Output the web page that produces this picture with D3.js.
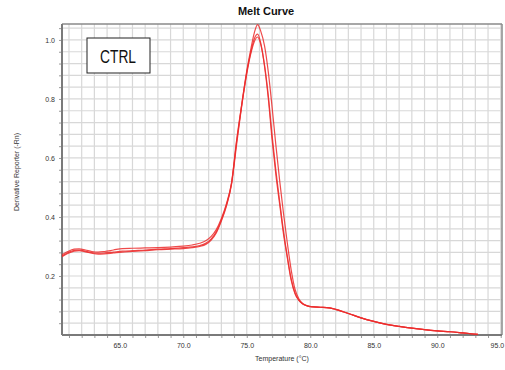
<!DOCTYPE html>
<html>
<head>
<meta charset="utf-8">
<script src="https://cdn.jsdelivr.net/npm/d3@7/dist/d3.min.js"></script>
<style>
  html, body { margin: 0; padding: 0; background: #fff; }
  svg { display: block; }
  text { font-family: "Liberation Sans", Arial, sans-serif; }
</style>
</head>
<body>
<svg id="chart" width="505" height="370"></svg>
<script>
// Temperature sample points (°C)
const temps = [60.45, 60.9, 61.4, 61.8, 62.3, 62.8, 63.3, 63.8, 64.5, 65.2, 66, 67, 68, 69, 70,
  70.7, 71.3, 71.8, 72.2, 72.6, 73.0, 73.4, 73.8, 74.2, 74.6, 75.0, 75.3, 75.6, 75.85, 76.1,
  76.4, 76.7, 77.0, 77.3, 77.6, 77.9, 78.2, 78.5, 78.8, 79.1, 79.4, 79.8, 80.2, 80.8, 81.5,
  82.0, 82.5, 83.0, 84.0, 85.0, 86.0, 87.0, 88.0, 89.0, 90.0, 91.0, 92.0, 93.2];

// Derivative reporter (-Rn) for the three CTRL wells
const wellA = [0.272, 0.283, 0.291, 0.292, 0.288, 0.283, 0.281, 0.283, 0.288, 0.293, 0.294, 0.295, 0.296, 0.298, 0.301,
  0.305, 0.311, 0.320, 0.334, 0.357, 0.395, 0.445, 0.515, 0.655, 0.780, 0.895, 0.965, 1.025, 1.052, 1.030,
  0.980, 0.890, 0.770, 0.640, 0.520, 0.410, 0.310, 0.220, 0.155, 0.123, 0.107, 0.099, 0.096, 0.094, 0.092,
  0.087, 0.080, 0.073, 0.058, 0.046, 0.036, 0.029, 0.023, 0.018, 0.014, 0.011, 0.007, 0.002];
const wellB = [0.268, 0.279, 0.287, 0.288, 0.284, 0.279, 0.277, 0.278, 0.281, 0.284, 0.286, 0.288, 0.291, 0.293, 0.296,
  0.299, 0.303, 0.312, 0.326, 0.350, 0.390, 0.440, 0.515, 0.660, 0.780, 0.890, 0.955, 1.005, 1.020, 0.990,
  0.910, 0.800, 0.660, 0.540, 0.440, 0.340, 0.260, 0.185, 0.140, 0.117, 0.105, 0.098, 0.095, 0.094, 0.092,
  0.087, 0.080, 0.073, 0.058, 0.046, 0.036, 0.029, 0.023, 0.018, 0.014, 0.011, 0.007, 0.002];
const wellC = [0.265, 0.276, 0.284, 0.286, 0.282, 0.277, 0.274, 0.275, 0.278, 0.281, 0.283, 0.286, 0.289, 0.291, 0.293,
  0.296, 0.300, 0.308, 0.322, 0.346, 0.386, 0.437, 0.510, 0.645, 0.775, 0.885, 0.950, 0.995, 1.010, 0.985,
  0.915, 0.810, 0.675, 0.555, 0.450, 0.350, 0.265, 0.190, 0.142, 0.118, 0.106, 0.098, 0.095, 0.094, 0.092,
  0.087, 0.080, 0.073, 0.058, 0.046, 0.036, 0.029, 0.023, 0.018, 0.014, 0.011, 0.007, 0.002];

const xTickValues = [65, 70, 75, 80, 85, 90, 95];
const yTickValues = [0.2, 0.4, 0.6, 0.8, 1.0];

const svg = d3.select("#chart");
const plotLeft = 62, plotRight = 502, plotTop = 24, plotBottom = 335;

const x = d3.scaleLinear().domain([60.45, 95.1]).range([plotLeft, plotRight]);
const y = d3.scaleLinear().domain([0, 1.054]).range([plotBottom, plotTop]);

// grid: every 1 °C and every 0.04 units
const vGrid = d3.range(61, 96, 1);
const hGrid = d3.range(1, 27).map(i => +(i * 0.04).toFixed(2));

svg.append("g").selectAll("line").data(vGrid).join("line")
  .attr("x1", d => x(d)).attr("x2", d => x(d))
  .attr("y1", plotTop).attr("y2", plotBottom)
  .attr("stroke", "#d8d8d8").attr("stroke-width", 1.2);
svg.append("g").selectAll("line").data(hGrid).join("line")
  .attr("x1", plotLeft).attr("x2", plotRight)
  .attr("y1", d => y(d)).attr("y2", d => y(d))
  .attr("stroke", "#d8d8d8").attr("stroke-width", 1.2);

// axes with minor ticks
const xAxisMinor = d3.axisBottom(x).tickValues(vGrid).tickSize(3).tickFormat("");
svg.append("g").attr("transform", `translate(0,${plotBottom})`).call(xAxisMinor)
  .call(g => g.select(".domain").remove())
  .call(g => g.selectAll("line").attr("stroke", "#999"));
const yAxisMinor = d3.axisLeft(y).tickValues(hGrid).tickSize(3).tickFormat("");
svg.append("g").attr("transform", `translate(${plotLeft},0)`).call(yAxisMinor)
  .call(g => g.select(".domain").remove())
  .call(g => g.selectAll("line").attr("stroke", "#999"));

const xAxis = d3.axisBottom(x).tickValues(xTickValues).tickSize(0).tickPadding(8)
  .tickFormat(d3.format(".1f"));
svg.append("g").attr("transform", `translate(0,${plotBottom})`).call(xAxis)
  .call(g => g.select(".domain").remove())
  .call(g => g.selectAll("text").attr("font-size", 7).attr("fill", "#333")
    .attr("font-family", "Liberation Sans, Arial, sans-serif"))
  // keep the last label inside the frame
  .call(g => g.selectAll("text").filter(d => d === 95)
    .attr("text-anchor", "end").attr("dx", 3));
const yAxis = d3.axisLeft(y).tickValues(yTickValues).tickSize(0).tickPadding(7)
  .tickFormat(d3.format(".1f"));
svg.append("g").attr("transform", `translate(${plotLeft},0)`).call(yAxis)
  .call(g => g.select(".domain").remove())
  .call(g => g.selectAll("text").attr("font-size", 7).attr("fill", "#333")
    .attr("font-family", "Liberation Sans, Arial, sans-serif"));

// frame
svg.append("line").attr("x1", plotLeft).attr("x2", plotRight).attr("y1", plotTop).attr("y2", plotTop)
  .attr("stroke", "#8a8a8a").attr("stroke-width", 1.5);
svg.append("line").attr("x1", plotRight).attr("x2", plotRight).attr("y1", plotTop).attr("y2", plotBottom)
  .attr("stroke", "#8a8a8a").attr("stroke-width", 1.5);
svg.append("line").attr("x1", plotLeft).attr("x2", plotRight).attr("y1", plotBottom).attr("y2", plotBottom)
  .attr("stroke", "#7a7a7a").attr("stroke-width", 2);
svg.append("line").attr("x1", plotLeft).attr("x2", plotLeft).attr("y1", plotTop).attr("y2", plotBottom)
  .attr("stroke", "#7a7a7a").attr("stroke-width", 2);

// melt curves
const line = d3.line()
  .x((d, i) => x(temps[i]))
  .y(d => y(d))
  .curve(d3.curveMonotoneX);
svg.append("g").selectAll("path").data([wellA, wellB, wellC]).join("path")
  .attr("d", line)
  .attr("fill", "none")
  .attr("stroke", "#ec2c2c")
  .attr("stroke-opacity", 0.85)
  .attr("stroke-width", 1.2);

// titles
svg.append("text").attr("x", 266).attr("y", 15).attr("text-anchor", "middle")
  .attr("font-size", 11).attr("font-weight", "bold").attr("fill", "#111")
  .text("Melt Curve");
svg.append("text").attr("x", 282).attr("y", 361).attr("text-anchor", "middle")
  .attr("font-size", 7).attr("fill", "#333")
  .text("Temperature (°C)");
svg.append("text").attr("transform", "translate(19,172) rotate(-90)")
  .attr("text-anchor", "middle").attr("font-size", 7).attr("fill", "#333")
  .text("Derivative Reporter (-Rn)");

// sample label box
svg.append("rect").attr("x", 87).attr("y", 38).attr("width", 63).attr("height", 35)
  .attr("fill", "#fff").attr("stroke", "#222").attr("stroke-width", 1);
svg.append("text").attr("x", 118).attr("y", 63).attr("text-anchor", "middle")
  .attr("font-size", 17.5).attr("fill", "#111")
  .attr("font-family", "Open Sans, sans-serif")
  .attr("textLength", 36).attr("lengthAdjust", "spacingAndGlyphs")
  .text("CTRL");
</script>
</body>
</html>
